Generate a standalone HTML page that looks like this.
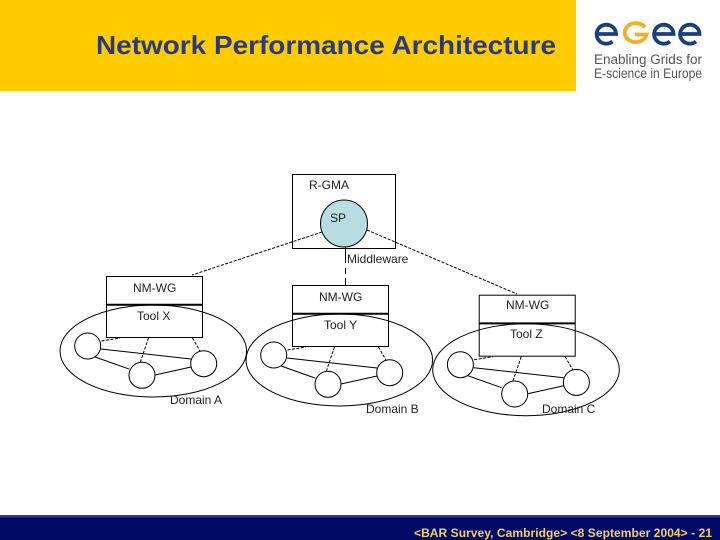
<!DOCTYPE html>
<html>
<head>
<meta charset="utf-8">
<style>
html,body{margin:0;padding:0;background:#fff;}
svg{display:block;}
text{font-family:"Liberation Sans",sans-serif;}
.l{font-size:12px;fill:#222;}
</style>
</head>
<body>
<svg width="720" height="540" viewBox="0 0 720 540" xmlns="http://www.w3.org/2000/svg">
<rect width="720" height="540" fill="#fff"/>
<rect width="576" height="91" fill="#ffcc00"/>
<text x="96" y="54" font-size="26" font-weight="bold" fill="#2b3a80" textLength="460" lengthAdjust="spacingAndGlyphs">Network Performance Architecture</text>

<!-- logo -->
<g fill="none" stroke-width="3.800">
<path d="M596.500 34H616A9.700 9.500 0 1 0 612.500 41.500" stroke="#1a3f80"/>
<path d="M645 27.500A11 9.500 0 1 0 646.500 34.500H635" stroke="#f2b124"/>
<path d="M654 34H673.500A9.700 9.500 0 1 0 670 41.500" stroke="#1a3f80"/>
<path d="M680 34H699.500A9.700 9.500 0 1 0 696 41.500" stroke="#1a3f80"/>
</g>
<text x="594" y="64" font-size="13.500" fill="#555" textLength="108" lengthAdjust="spacingAndGlyphs">Enabling Grids for</text>
<text x="594" y="78" font-size="13.500" fill="#555" textLength="108" lengthAdjust="spacingAndGlyphs">E-science in Europe</text>

<!-- diagram -->
<g fill="none" stroke="#000" stroke-width="1">
<rect x="292.500" y="174.500" width="103" height="74"/>
<path d="M322 232L192 275" stroke-dasharray="3 1.500"/>
<path d="M367 230L517 294" stroke-dasharray="3 1.500"/>
<path d="M345.500 247V263M345.500 268V274M345.500 278V285"/>
</g>
<circle cx="344" cy="223.500" r="23.500" fill="#b8dde0" stroke="#000"/>
<text class="l" x="309" y="189">R-GMA</text>
<text class="l" x="330" y="222">SP</text>
<text class="l" x="347" y="263">Middleware</text>

<defs>
<g id="domain" fill="none" stroke="#000" stroke-width="1">
<ellipse cx="153.300" cy="351" rx="93.300" ry="46"/>
<path d="M101 349L191 359M95 357L129 369M155 375L191 367"/>
<path d="M101.500 341L120 338M148.500 338L140 363M192.500 338L200 351" stroke-dasharray="3 1.500"/>
<circle cx="87.700" cy="346" r="13"/>
<circle cx="142" cy="375.300" r="13"/>
<circle cx="203.700" cy="363.700" r="13"/>
<rect x="106.500" y="276.500" width="96" height="61"/>
<path d="M106.500 304.700H202.500" stroke-width="2"/>
</g>
</defs>
<use href="#domain"/>
<use href="#domain" x="186" y="9"/>
<use href="#domain" x="372.700" y="18.700"/>

<text class="l" x="133" y="292">NM-WG</text>
<text class="l" x="137" y="320">Tool X</text>
<text class="l" x="170" y="404">Domain A</text>
<text class="l" x="319" y="301">NM-WG</text>
<text class="l" x="324" y="329">Tool Y</text>
<text class="l" x="366" y="413">Domain B</text>
<text class="l" x="506" y="309">NM-WG</text>
<text class="l" x="510" y="338">Tool Z</text>
<text class="l" x="542" y="413">Domain C</text>

<!-- footer -->
<rect y="515" width="720" height="25" fill="#000a66"/>
<rect y="515" width="720" height="2.500" fill="#2c3c8c"/>
<text x="414" y="537" font-size="12" font-weight="bold" fill="#f4cf6a" textLength="298" lengthAdjust="spacing">&lt;BAR Survey, Cambridge&gt; &lt;8 September 2004&gt; - 21</text>
</svg>
</body>
</html>
